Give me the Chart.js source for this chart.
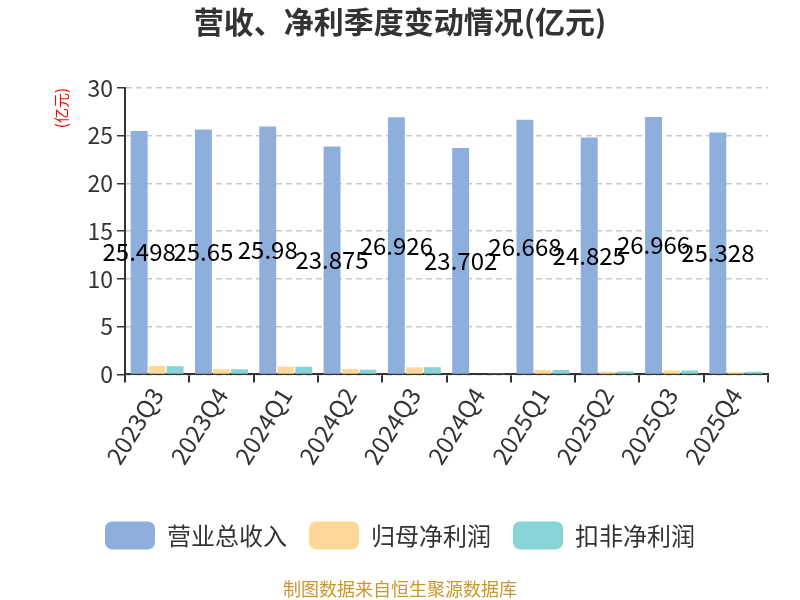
<!DOCTYPE html>
<html>
<head>
<meta charset="utf-8">
<script src="https://cdn.jsdelivr.net/npm/chart.js@4/dist/chart.umd.min.js"></script>
<style>
  body { margin: 0; background: #fff; }
  #wrap { width: 800px; height: 600px; }
</style>
</head>
<body>
<div id="wrap"><canvas id="c"></canvas></div>
<script>
const quarters = ['2023Q3','2023Q4','2024Q1','2024Q2','2024Q3','2024Q4','2025Q1','2025Q2','2025Q3','2025Q4'];
const revenue = [25.498, 25.65, 25.98, 23.875, 26.926, 23.702, 26.668, 24.825, 26.966, 25.328];
const netProfit = [0.88, 0.53, 0.81, 0.56, 0.74, 0.06, 0.46, 0.28, 0.42, 0.22];
const deductedProfit = [0.85, 0.55, 0.80, 0.50, 0.74, 0.05, 0.46, 0.30, 0.42, 0.28];
const yTicks = [0, 5, 10, 15, 20, 25, 30];

const font = "'Noto Sans CJK SC', 'Noto Sans', sans-serif";

// value labels in the middle of the revenue bars
const barLabels = {
  id: 'barLabels',
  afterDatasetsDraw(chart) {
    const ctx = chart.ctx;
    const meta = chart.getDatasetMeta(0);
    ctx.save();
    ctx.font = '24px ' + font;
    ctx.fillStyle = '#000';
    ctx.textAlign = 'center';
    ctx.textBaseline = 'middle';
    meta.data.forEach((bar, i) => {
      ctx.fillText(String(revenue[i]), bar.x, (bar.y + bar.base) / 2);
    });
    ctx.restore();
  }
};

new Chart(document.getElementById('c'), {
  type: 'bar',
  data: {
    labels: quarters,
    datasets: [
      { label: '营业总收入', data: revenue, backgroundColor: '#8eaedb' },
      { label: '归母净利润', data: netProfit, backgroundColor: '#ffd899' },
      { label: '扣非净利润', data: deductedProfit, backgroundColor: '#86d4d6' }
    ]
  },
  options: {
    responsive: true,
    maintainAspectRatio: false,
    animation: false,
    layout: { padding: { left: 32, right: 32, top: 0, bottom: 0 } },
    datasets: { bar: { categoryPercentage: 0.84, barPercentage: 0.94 } },
    plugins: {
      title: {
        display: true,
        text: '营收、净利季度变动情况(亿元)',
        color: '#333',
        font: { family: font, size: 30, weight: 'bold' },
        padding: { top: 4, bottom: 48 }
      },
      subtitle: {
        display: true,
        position: 'bottom',
        text: '制图数据来自恒生聚源数据库',
        color: '#c9962f',
        font: { family: font, size: 18 },
        padding: { top: 19, bottom: 0 }
      },
      legend: {
        position: 'bottom',
        labels: {
          color: '#333',
          font: { family: font, size: 24 },
          boxWidth: 50,
          boxHeight: 28,
          useBorderRadius: true,
          borderRadius: 7,
          padding: 22
        }
      },
      tooltip: { enabled: false }
    },
    scales: {
      x: {
        afterFit(axis) { axis.height = 125; },
        grid: { display: true, drawOnChartArea: false, drawTicks: true, tickLength: 8, color: '#333', lineWidth: 2 },
        border: { color: '#333', width: 2 },
        ticks: {
          color: '#333',
          font: { family: font, size: 24 },
          maxRotation: 58,
          minRotation: 58,
          padding: 0
        }
      },
      y: {
        min: 0,
        max: 30,
        afterBuildTicks(axis) { axis.ticks = yTicks.map(v => ({ value: v })); },
        afterFit(axis) { axis.width = 93; },
        grid: { color: '#c8c8c8', lineWidth: 1.5, tickLength: 8, tickColor: '#333', drawTicks: true },
        border: { color: '#333', width: 2, dash: [6, 4], dashOffset: 0 },
        ticks: { color: '#333', font: { family: font, size: 23 }, padding: 4 },
        title: {
          display: true,
          text: '(亿元)',
          align: 'end',
          color: '#ff0000',
          font: { family: font, size: 15 },
          padding: { top: 20, bottom: 0 }
        }
      }
    }
  },
  plugins: [barLabels]
});
</script>
</body>
</html>
